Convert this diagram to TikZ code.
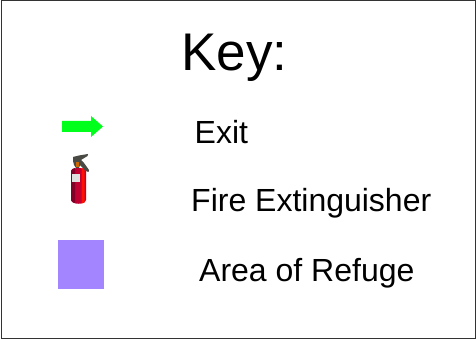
\documentclass[tikz,border=0pt]{standalone}
\usepackage{fontspec}
\setmainfont{Liberation Sans}
\definecolor{refuge}{HTML}{A385FF}
\definecolor{exitgreen}{HTML}{00FF1A}
\definecolor{exred}{HTML}{C00030}
\definecolor{exdark}{HTML}{800028}
\definecolor{exbright}{HTML}{FF1000}
\definecolor{exgrey}{HTML}{4A4A44}
\tikzset{x=1pt,y=-1pt,
  keytext/.style={inner sep=0pt,anchor=base west,text=black},
  itemtext/.style={keytext,font=\fontsize{32}{38}\selectfont},
  frameline/.style={draw=black!80!white,line width=1pt}}
\begin{document}
\begin{tikzpicture}
\useasboundingbox (0,0) rectangle (476,339);
\fill[white] (0,0) rectangle (476,339);
\draw[frameline] (1,1) rectangle (475.5,338);
\node[keytext,font=\fontsize{53}{60}\selectfont] (title) at (181,71) {Key:};
\node[itemtext] (exit) at (194.5,144) {Exit};
\node[itemtext] (fire) at (191,211) {Fire Extinguisher};
\node[itemtext] (area) at (199,281) {Area of Refuge};
\fill[exitgreen] (62,121) -- (91,121) -- (91,116) -- (103,126.5) -- (91,137) -- (91,132) -- (62,132) -- cycle;
\fill[refuge] (58,240) rectangle (104,289);
\fill[exred] (71,171) .. controls (72,167) and (85,167) .. (86,171) -- (86,200) .. controls (85,205) and (72,205) .. (71,200) -- cycle;
\fill[exdark] (71,171) .. controls (71.5,169) and (73,168.5) .. (75,168) -- (75,203) .. controls (73,202.5) and (71.5,202) .. (71,200) -- cycle;
\fill[exbright] (81.5,168) -- (84.5,169) -- (84.5,202.5) -- (81.5,203.5) -- cycle;
\fill[gray!25] (72,174) rectangle (80,182.5);
\fill[exgrey] (73,157) -- (79,155.5) -- (88,154) -- (87.5,156) -- (81,160) -- (84,163) -- (89,170) -- (88.5,172) -- (85.5,171) -- (80,165) -- (79,168) -- (76,168) -- (74,165) -- (73,161) -- cycle;
\fill[orange!80!black] (76,162) rectangle (79,167);
\end{tikzpicture}
\end{document}
